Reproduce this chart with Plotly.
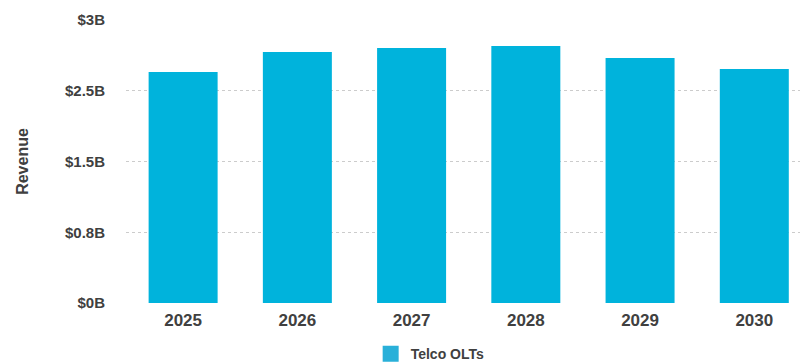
import plotly.graph_objects as go

years = ["2025", "2026", "2027", "2028", "2029", "2030"]
revenue_b = [2.448, 2.661, 2.703, 2.724, 2.597, 2.480]
series_name = "Telco OLTs"
y_tick_vals = [0, 0.75, 1.5, 2.25, 3]
y_tick_text = ["$0B", "$0.8B", "$1.5B", "$2.5B", "$3B"]

BAR = "#00b3dc"
TXT = "#404040"
FONT = "Liberation Sans, Arial, sans-serif"

fig = go.Figure()
fig.add_trace(go.Bar(
    x=years, y=revenue_b, name=series_name, marker_color=BAR,
    marker_line_width=0, showlegend=False,
))
fig.add_trace(go.Scatter(
    x=[None], y=[None], mode="markers", name=series_name,
    marker=dict(symbol="square", size=16, color="#29b0d9"),
))

fig.update_layout(
    width=800, height=362,
    margin=dict(l=126, r=0, t=20, b=59, autoexpand=False),
    plot_bgcolor="white", paper_bgcolor="white",
    bargap=0.396,
    font=dict(family=FONT, color=TXT),
    showlegend=True,
    legend=dict(orientation="h", x=0.363, xanchor="left",
                yref="container", y=0.022, yanchor="middle",
                font=dict(size=14, family=FONT, color=TXT, weight="bold"),
                bgcolor="rgba(0,0,0,0)"),
)
fig.update_xaxes(
    range=[-0.5, 5.4], showgrid=False, showline=False, zeroline=False,
    tickfont=dict(size=17, family=FONT, color=TXT, weight="bold"),
    ticks="", ticklabelstandoff=5,
)
fig.update_yaxes(
    range=[0, 3], tickvals=y_tick_vals, ticktext=y_tick_text,
    showgrid=True, gridcolor="#cccccc", griddash="3px,3px", gridwidth=1,
    zeroline=False, showline=False, ticks="",
    tickfont=dict(size=15, family=FONT, color=TXT, weight="bold"),
    ticklabelstandoff=20,
    title=dict(text="Revenue", font=dict(size=16, family=FONT, color=TXT, weight="bold"), standoff=32),
)

fig.write_html("out.html")
